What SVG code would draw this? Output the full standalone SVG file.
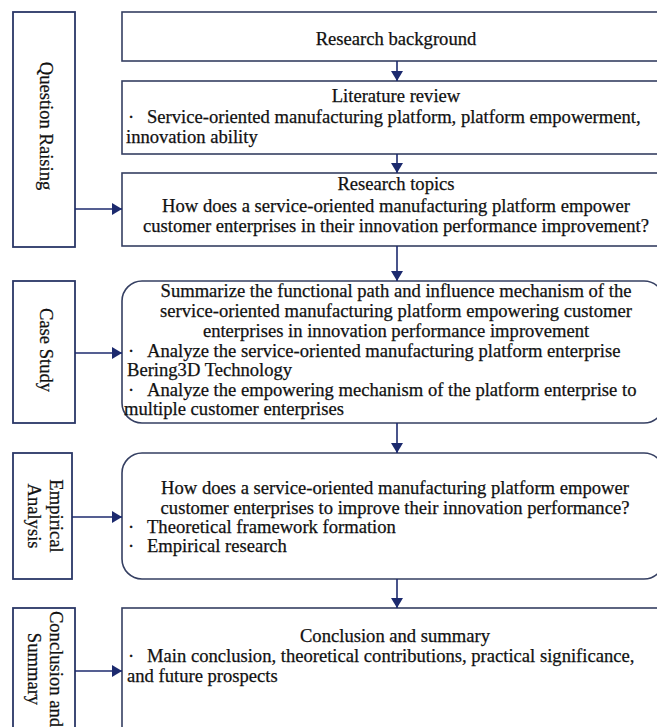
<svg xmlns="http://www.w3.org/2000/svg" width="657" height="727" viewBox="0 0 657 727">
  <defs>
    <marker id="arrow" viewBox="0 0 10 12" refX="10" refY="6" markerWidth="10" markerHeight="12" markerUnits="userSpaceOnUse" orient="auto">
      <path d="M0,0 L10,6 L0,12 Z" fill="#1c2a6e"/>
    </marker>
    <style>
      .stage { fill: #ffffff; stroke: #2a3766; stroke-width: 1.8; }
      .box { fill: #ffffff; stroke: #353f62; stroke-width: 1.6; }
      .t { font-family: "Liberation Serif", "Times New Roman", serif; font-size: 18.6px; fill: #111111; stroke: #111111; stroke-width: 0.25; }
      .c { text-anchor: middle; }
      .v { text-anchor: middle; }
      .link { stroke: #1c2a6e; stroke-width: 1.6; fill: none; marker-end: url(#arrow); }
    </style>
  </defs>

  <!-- stage labels on the left -->
  <g id="stage-question">
    <rect class="stage" x="13" y="12" width="62" height="235"/>
    <text class="t v" transform="translate(40,126) rotate(90)">Question Raising</text>
  </g>
  <g id="stage-case">
    <rect class="stage" x="13" y="281" width="62" height="142"/>
    <text class="t v" transform="translate(40,350) rotate(90)">Case Study</text>
  </g>
  <g id="stage-empirical">
    <rect class="stage" x="13" y="453" width="59" height="126"/>
    <text class="t v" transform="translate(50,516) rotate(90)">Empirical</text>
    <text class="t v" transform="translate(28,516) rotate(90)">Analysis</text>
  </g>
  <g id="stage-conclusion">
    <rect class="stage" x="13" y="608" width="62" height="130"/>
    <text class="t v" transform="translate(50,669) rotate(90)">Conclusion and</text>
    <text class="t v" transform="translate(28,669) rotate(90)">Summary</text>
  </g>

  <!-- main flow -->
  <g id="background">
    <rect class="box" x="122" y="12" width="545" height="49"/>
    <text class="t c" x="396" y="45">Research background</text>
  </g>
  <g id="literature">
    <rect class="box" x="122" y="81" width="545" height="73"/>
    <text class="t c" x="396" y="102">Literature review</text>
    <text class="t" x="128" y="123">·<tspan x="147">Service-oriented manufacturing platform, platform empowerment,</tspan></text>
    <text class="t" x="126" y="143">innovation ability</text>
  </g>
  <g id="topics">
    <rect class="box" x="122" y="173" width="545" height="73"/>
    <text class="t c" x="396" y="190">Research topics</text>
    <text class="t c" x="396" y="212">How does a service-oriented manufacturing platform empower</text>
    <text class="t c" x="396" y="232">customer enterprises in their innovation performance improvement?</text>
  </g>
  <g id="case">
    <rect class="box" x="122" y="281" width="542" height="142" rx="20" ry="20"/>
    <text class="t c" x="396" y="297">Summarize the functional path and influence mechanism of the</text>
    <text class="t c" x="396" y="317">service-oriented manufacturing platform empowering customer</text>
    <text class="t c" x="396" y="337">enterprises in innovation performance improvement</text>
    <text class="t" x="128" y="357">·<tspan x="147">Analyze the service-oriented manufacturing platform enterprise</tspan></text>
    <text class="t" x="127" y="376">Bering3D Technology</text>
    <text class="t" x="128" y="396">·<tspan x="147">Analyze the empowering mechanism of the platform enterprise to</tspan></text>
    <text class="t" x="124" y="415">multiple customer enterprises</text>
  </g>
  <g id="empirical">
    <rect class="box" x="122" y="453" width="542" height="126" rx="20" ry="20"/>
    <text class="t c" x="395" y="494">How does a service-oriented manufacturing platform empower</text>
    <text class="t c" x="395" y="514">customer enterprises to improve their innovation performance?</text>
    <text class="t" x="128" y="533">·<tspan x="147">Theoretical framework formation</tspan></text>
    <text class="t" x="128" y="552">·<tspan x="147">Empirical research</tspan></text>
  </g>
  <g id="conclusion">
    <rect class="box" x="122" y="608" width="545" height="130"/>
    <text class="t c" x="395" y="642">Conclusion and summary</text>
    <text class="t" x="128" y="662">·<tspan x="147">Main conclusion, theoretical contributions, practical significance,</tspan></text>
    <text class="t" x="127" y="682">and future prospects</text>
  </g>

  <!-- connectors -->
  <g id="connectors">
    <line class="link" x1="397" y1="61" x2="397" y2="81"/>
    <line class="link" x1="397" y1="154" x2="397" y2="173"/>
    <line class="link" x1="397" y1="246" x2="397" y2="281"/>
    <line class="link" x1="397" y1="423" x2="397" y2="453"/>
    <line class="link" x1="397" y1="579" x2="397" y2="608"/>
    <line class="link" x1="75" y1="209" x2="122" y2="209"/>
    <line class="link" x1="75" y1="353" x2="122" y2="353"/>
    <line class="link" x1="72" y1="517" x2="122" y2="517"/>
    <line class="link" x1="75" y1="671" x2="122" y2="671"/>
  </g>
</svg>
